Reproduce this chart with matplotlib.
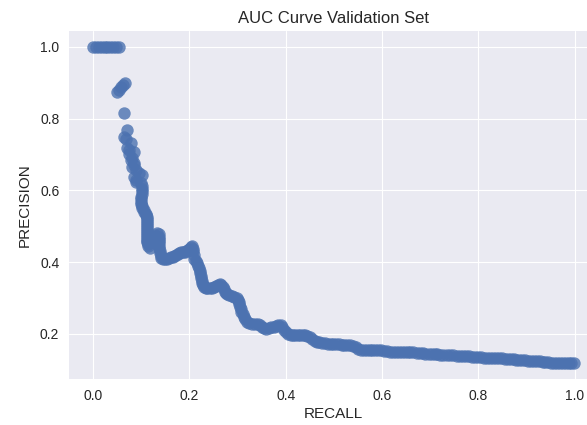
"""Precision-recall scatter for the validation set."""

import matplotlib

matplotlib.use("Agg")
import matplotlib.pyplot as plt

recall = [
    0.000, 0.006, 0.012, 0.018, 0.024, 0.030, 0.036, 0.042, 0.048, 0.053,
    0.050, 0.054, 0.058, 0.062, 0.066, 0.065,
    0.071, 0.065, 0.068, 0.079, 0.071, 0.075, 0.085, 0.075, 0.081, 0.079,
    0.085, 0.085, 0.081, 0.089, 0.095, 0.102, 0.085, 0.089, 0.089, 0.100,
    0.102, 0.102, 0.102, 0.102, 0.100, 0.100, 0.100, 0.100, 0.102, 0.102,
    0.105, 0.105, 0.110, 0.110, 0.112, 0.112, 0.113, 0.113, 0.113, 0.113,
    0.113, 0.113, 0.113, 0.113, 0.113, 0.113, 0.113, 0.113, 0.114, 0.114,
    0.118, 0.118, 0.120, 0.124, 0.128, 0.133, 0.137, 0.137, 0.137, 0.137,
    0.137, 0.137, 0.137, 0.139, 0.140, 0.141, 0.142, 0.146, 0.150, 0.154,
    0.158, 0.162, 0.165, 0.169, 0.172, 0.176, 0.179, 0.183, 0.186, 0.190,
    0.194, 0.197, 0.200, 0.203, 0.206, 0.207, 0.208, 0.209, 0.210, 0.213,
    0.215, 0.218, 0.221, 0.222, 0.223, 0.224, 0.225, 0.226, 0.227, 0.229,
    0.230, 0.234, 0.237, 0.242, 0.248, 0.252, 0.256, 0.260, 0.263, 0.266,
    0.269, 0.272, 0.274, 0.277, 0.279, 0.283, 0.288, 0.293, 0.298, 0.300,
    0.302, 0.304, 0.305, 0.307, 0.308, 0.311, 0.313, 0.316, 0.319, 0.324,
    0.330, 0.336, 0.342, 0.346, 0.350, 0.355, 0.360, 0.365, 0.370, 0.375,
    0.380, 0.385, 0.390, 0.393, 0.396, 0.400, 0.404, 0.410, 0.415, 0.420,
    0.425, 0.430, 0.435, 0.440, 0.444, 0.450, 0.455, 0.460, 0.465, 0.470,
    0.475, 0.481, 0.487, 0.493, 0.498, 0.504, 0.510, 0.516, 0.522, 0.527,
    0.533, 0.539, 0.545, 0.550, 0.556, 0.562, 0.568, 0.574, 0.580, 0.586,
    0.592, 0.598, 0.604, 0.610, 0.616, 0.623, 0.629, 0.635, 0.641, 0.647,
    0.653, 0.659, 0.665, 0.672, 0.678, 0.684, 0.690, 0.697, 0.703, 0.709,
    0.715, 0.721, 0.727, 0.735, 0.741, 0.748, 0.755, 0.762, 0.768, 0.775,
    0.781, 0.787, 0.793, 0.799, 0.805, 0.812, 0.818, 0.824, 0.831, 0.837,
    0.843, 0.849, 0.855, 0.861, 0.867, 0.873, 0.879, 0.885, 0.891, 0.897,
    0.903, 0.909, 0.915, 0.921, 0.927, 0.933, 0.939, 0.945, 0.951, 0.957,
    0.963, 0.969, 0.975, 0.981, 0.987, 0.993, 0.998,
]
precision = [
    1.000, 1.000, 1.000, 1.000, 1.000, 1.000, 1.000, 1.000, 1.000, 1.000,
    0.873, 0.880, 0.887, 0.893, 0.899, 0.817,
    0.769, 0.750, 0.742, 0.732, 0.718, 0.712, 0.707, 0.700, 0.690, 0.685,
    0.675, 0.670, 0.665, 0.656, 0.648, 0.642, 0.637, 0.628, 0.623, 0.620,
    0.612, 0.605, 0.598, 0.590, 0.582, 0.575, 0.568, 0.563, 0.556, 0.550,
    0.545, 0.540, 0.535, 0.530, 0.525, 0.520, 0.515, 0.510, 0.504, 0.498,
    0.492, 0.487, 0.481, 0.475, 0.470, 0.465, 0.460, 0.455, 0.450, 0.445,
    0.440, 0.455, 0.465, 0.470, 0.475, 0.482, 0.478, 0.470, 0.465, 0.458,
    0.452, 0.446, 0.440, 0.432, 0.425, 0.418, 0.411, 0.410, 0.410, 0.410,
    0.411, 0.413, 0.415, 0.418, 0.420, 0.423, 0.425, 0.427, 0.428, 0.429,
    0.430, 0.433, 0.437, 0.441, 0.445, 0.437, 0.430, 0.420, 0.410, 0.403,
    0.397, 0.390, 0.383, 0.376, 0.370, 0.362, 0.355, 0.348, 0.342, 0.337,
    0.332, 0.329, 0.327, 0.327, 0.327, 0.330, 0.333, 0.336, 0.338, 0.335,
    0.332, 0.325, 0.318, 0.314, 0.310, 0.307, 0.305, 0.302, 0.300, 0.295,
    0.290, 0.282, 0.275, 0.268, 0.262, 0.255, 0.248, 0.241, 0.234, 0.231,
    0.228, 0.228, 0.228, 0.224, 0.220, 0.217, 0.214, 0.216, 0.218, 0.220,
    0.222, 0.224, 0.225, 0.218, 0.210, 0.204, 0.200, 0.198, 0.197, 0.197,
    0.197, 0.197, 0.197, 0.196, 0.195, 0.190, 0.185, 0.181, 0.177, 0.176,
    0.175, 0.174, 0.173, 0.172, 0.172, 0.171, 0.171, 0.170, 0.170, 0.169,
    0.169, 0.166, 0.162, 0.158, 0.156, 0.155, 0.155, 0.155, 0.155, 0.155,
    0.155, 0.154, 0.153, 0.152, 0.150, 0.149, 0.150, 0.150, 0.150, 0.150,
    0.150, 0.149, 0.149, 0.148, 0.147, 0.146, 0.145, 0.145, 0.145, 0.144,
    0.143, 0.142, 0.142, 0.141, 0.140, 0.140, 0.139, 0.138, 0.138, 0.137,
    0.137, 0.136, 0.136, 0.135, 0.135, 0.134, 0.134, 0.133, 0.132, 0.132,
    0.132, 0.132, 0.131, 0.131, 0.130, 0.130, 0.128, 0.127, 0.127, 0.126,
    0.125, 0.124, 0.124, 0.124, 0.123, 0.122, 0.121, 0.121, 0.120, 0.120,
    0.119, 0.118, 0.118, 0.118, 0.118, 0.118, 0.118,
]

plt.style.use("seaborn-v0_8-darkgrid")
plt.rcParams["font.family"] = ["Liberation Sans", "DejaVu Sans"]
plt.rcParams["xtick.labelsize"] = 10
plt.rcParams["ytick.labelsize"] = 10
plt.rcParams["xtick.major.pad"] = 7
plt.rcParams["ytick.major.pad"] = 7
plt.rcParams["axes.labelsize"] = 11
plt.rcParams["axes.titlesize"] = 12

fig = plt.figure(figsize=(5.87, 4.25), dpi=100)
ax = fig.add_axes([0.1175, 0.108, 0.901, 0.819])
ax.scatter(recall, precision, s=80, color="#4C72B0", alpha=0.8, linewidths=0)
ax.set_xticks([0.0, 0.2, 0.4, 0.6, 0.8, 1.0])
ax.set_yticks([0.2, 0.4, 0.6, 0.8, 1.0])
ax.set_xlabel("RECALL", labelpad=3)
ax.set_ylabel("PRECISION", labelpad=6)
ax.set_title("AUC Curve Validation Set")

fig.savefig("out.png", dpi=100)
